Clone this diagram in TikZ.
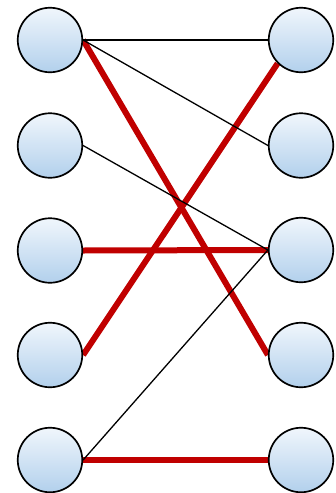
\documentclass[tikz,border=0pt]{standalone}
\usetikzlibrary{backgrounds}
\definecolor{topc}{HTML}{F0F6FC}
\definecolor{botc}{HTML}{B2D0EC}
\definecolor{redc}{HTML}{C00000}
\tikzset{
  vert/.style={circle, draw=black, line width=1.7pt, minimum size=64.5pt, inner sep=0pt, top color=topc, bottom color=botc},
  thinedge/.style={draw=black, line width=1.3pt},
  thickedge/.style={draw=redc, line width=6pt}
}
\begin{document}
\begin{tikzpicture}[x=1pt,y=-1pt]
\useasboundingbox (0,0) rectangle (336,493);
\node[vert] (L1) at (50,40) {};
\node[vert] (L2) at (50,145.5) {};
\node[vert] (L3) at (50,250.5) {};
\node[vert] (L4) at (50,355) {};
\node[vert] (L5) at (50,460) {};
\node[vert] (R1) at (301,40) {};
\node[vert] (R2) at (301,145.5) {};
\node[vert] (R3) at (301,250) {};
\node[vert] (R4) at (301,355) {};
\node[vert] (R5) at (301,460) {};
\begin{scope}[on background layer]
\draw[thickedge] (L1.east) -- (R4.west);
\draw[thickedge] (L4.east) -- (R1.south west);
\draw[thickedge] (L3.east) -- (R3.west);
\draw[thickedge] (L5.east) -- (R5.west);
\draw[thinedge] (L1.east) -- (R1.west);
\draw[thinedge] (L1.east) -- (R2.west);
\draw[thinedge] (L2.east) -- (R3.west);
\draw[thinedge] (L5.east) -- (R3.west);
\end{scope}
\end{tikzpicture}
\end{document}
